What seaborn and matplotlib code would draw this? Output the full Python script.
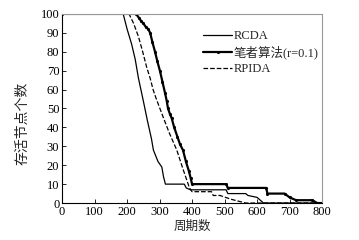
import numpy as np
import pandas as pd
import seaborn as sns
import matplotlib.pyplot as plt

sns.set_theme(style="white")
plt.rcParams['font.family'] = ['Liberation Serif', 'Noto Sans CJK SC']

# RCDA (thin solid)
rcda_x = [0, 188, 200, 214, 225, 235, 250, 262, 275, 281, 295, 307, 312, 318,
          376, 382, 395, 505, 510, 565, 572, 600, 620, 800]
rcda_y = [100, 100, 92, 84, 76, 66, 54, 44, 34, 28, 22, 19, 14, 10,
          10, 8, 7, 7, 5, 5, 4, 3, 0, 0]

# proposed algorithm (thick, dotted markers)
prop_x = [0, 228, 236, 244, 250, 258, 265, 271, 278, 286, 293, 301, 309, 317,
          322, 326, 332, 337, 345, 355, 363, 372, 381, 390, 396, 400,
          505, 510, 628, 632, 685, 700, 720, 770, 785, 800]
prop_y = [100, 100, 98, 96, 95, 93, 92, 90, 85, 80, 75, 70, 64, 58,
          54, 50, 47, 45, 40, 35, 31, 28, 22, 17, 13, 10,
          10, 8, 8, 5, 5, 3, 1.5, 1.5, 0, 0]

# RPIDA (dashed)
rpida_x = [0, 206, 220, 235, 248, 260, 271, 280, 290, 301, 312, 330, 353, 372,
           392, 400, 460, 465, 486, 520, 565, 800]
rpida_y = [100, 100, 95, 88, 80, 72, 66, 60, 55, 50, 45, 37, 28, 18,
           8, 6, 6, 4, 4, 2, 0, 0]

labels = ["RCDA", "笔者算法(r=0.1)", "RPIDA"]

fig = plt.figure(figsize=(3.59, 2.40), dpi=100)
ax = fig.add_axes([0.173, 0.154, 0.724, 0.788])

sns.lineplot(x=rcda_x, y=rcda_y, estimator=None, sort=False, ax=ax,
             color="black", linewidth=0.9, label=labels[0])
sns.lineplot(x=prop_x, y=prop_y, estimator=None, sort=False, ax=ax,
             color="black", linewidth=1.6, marker=".", markersize=4.5,
             markeredgewidth=0, label=labels[1])
sns.lineplot(x=rpida_x, y=rpida_y, estimator=None, sort=False, ax=ax,
             color="black", linewidth=0.9, linestyle="--", label=labels[2])

ax.set_xlim(0, 800)
ax.set_ylim(0, 100)
ax.set_xticks(np.arange(0, 801, 100))
ax.set_yticks(np.arange(0, 101, 10))
ax.tick_params(direction="in", length=3, width=0.6, labelsize=9, pad=2,
               colors="black", bottom=True, left=True)
ax.set_xlabel("周期数", fontsize=9, labelpad=2)
ax.set_ylabel("存活节点个数", fontsize=10)
ax.yaxis.set_label_coords(-0.125, 0.42)

for side in ["left", "bottom"]:
    ax.spines[side].set_color("black")
    ax.spines[side].set_linewidth(0.8)
for side in ["top", "right"]:
    ax.spines[side].set_color("#999999")
    ax.spines[side].set_linewidth(0.8)

leg = ax.legend(loc="upper right", bbox_to_anchor=(0.985, 0.915), frameon=False,
                fontsize=9, handlelength=2.3, handletextpad=0.1,
                labelspacing=0.3, borderaxespad=0.0, borderpad=0.0)

fig.savefig("out.png", dpi=100)
